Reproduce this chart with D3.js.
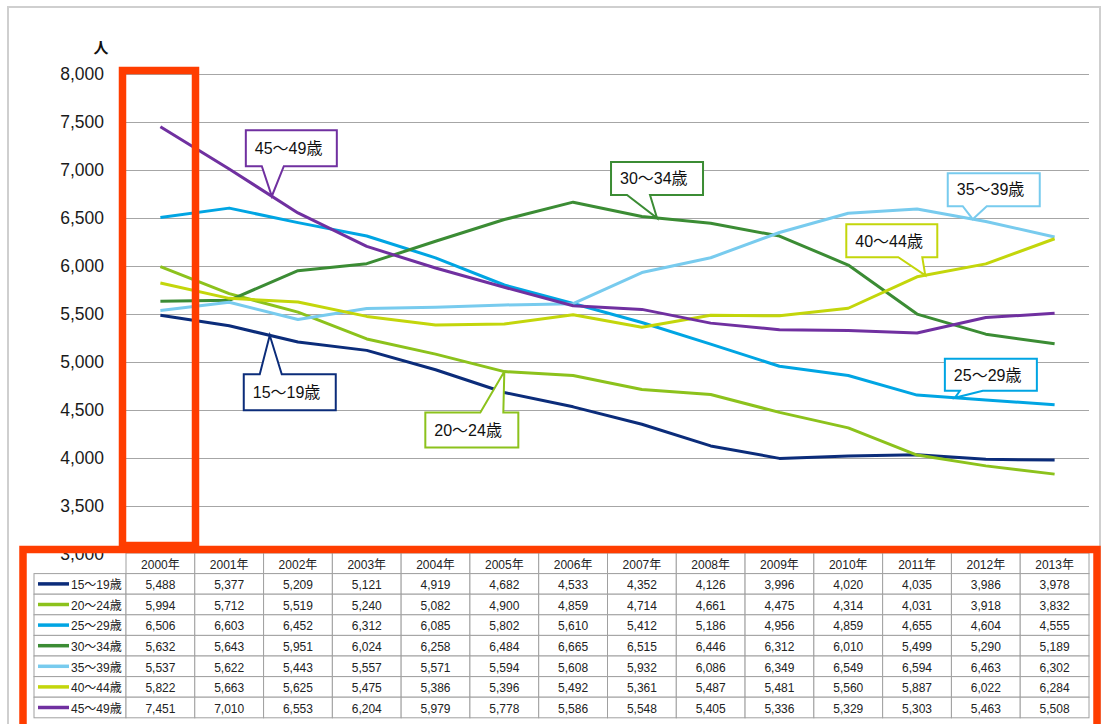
<!DOCTYPE html>
<html><head><meta charset="utf-8">
<script src="https://cdn.jsdelivr.net/npm/d3@7"></script>
<style>
html,body{margin:0;padding:0;background:#fff;}
svg{display:block;}
text{font-family:"Liberation Sans","Noto Sans CJK JP",Arial,sans-serif;}
</style></head>
<body>
<script>
const years = ["2000年","2001年","2002年","2003年","2004年","2005年","2006年","2007年","2008年","2009年","2010年","2011年","2012年","2013年"];
const seriesNames = ["15～19歳","20～24歳","25～29歳","30～34歳","35～39歳","40～44歳","45～49歳"];
const s15_19 = [5488,5377,5209,5121,4919,4682,4533,4352,4126,3996,4020,4035,3986,3978];
const s20_24 = [5994,5712,5519,5240,5082,4900,4859,4714,4661,4475,4314,4031,3918,3832];
const s25_29 = [6506,6603,6452,6312,6085,5802,5610,5412,5186,4956,4859,4655,4604,4555];
const s30_34 = [5632,5643,5951,6024,6258,6484,6665,6515,6446,6312,6010,5499,5290,5189];
const s35_39 = [5537,5622,5443,5557,5571,5594,5608,5932,6086,6349,6549,6594,6463,6302];
const s40_44 = [5822,5663,5625,5475,5386,5396,5492,5361,5487,5481,5560,5887,6022,6284];
const s45_49 = [7451,7010,6553,6204,5979,5778,5586,5548,5405,5336,5329,5303,5463,5508];
const seriesValues = [s15_19,s20_24,s25_29,s30_34,s35_39,s40_44,s45_49];
const colors = ["#0b2c7a","#8cc21c","#00a5e3","#3b8c34","#78cbee","#c3d60b","#7030a0"];
const yTicks = [3000,3500,4000,4500,5000,5500,6000,6500,7000,7500,8000];

(function(){
const W = 1107, H = 724;
const svg = d3.select("body").append("svg").attr("width",W).attr("height",H);

// outer frame
svg.append("rect").attr("x",8).attr("y",7).attr("width",1092).attr("height",800)
  .attr("fill","#fff").attr("stroke","#cfcfcf").attr("stroke-width",2);

const x = d3.scaleBand().domain(years).range([126,1089]).paddingInner(0).paddingOuter(0);
const bw = x.bandwidth();
const cx = d => x(d) + bw/2;
const y = d3.scaleLinear().domain([3000,8000]).range([554,74]);

// gridlines
svg.append("g").selectAll("line").data(yTicks).join("line")
  .attr("x1",126).attr("x2",1089)
  .attr("y1",d=>Math.round(y(d))+0.5).attr("y2",d=>Math.round(y(d))+0.5)
  .attr("stroke","#a6a6a6").attr("stroke-width",1.2);

// y labels
svg.append("g").selectAll("text").data(yTicks).join("text")
  .attr("x",104).attr("y",d=>y(d)).attr("dy","0.35em")
  .attr("text-anchor","end").attr("font-size",17.5).attr("fill","#1a1a1a")
  .text(d=>d3.format(",")(d));

svg.append("text").attr("x",101).attr("y",48).attr("dy","0.35em")
  .attr("text-anchor","middle").attr("font-size",15).attr("font-weight","bold")
  .attr("fill","#111").text("人");

// lines
const line = d3.line().x((d,i)=>cx(years[i])).y(d=>y(d));
svg.append("g").selectAll("path").data(seriesValues).join("path")
  .attr("d",d=>line(d)).attr("fill","none")
  .attr("stroke",(d,i)=>colors[i]).attr("stroke-width",3)
  .attr("stroke-linejoin","round");

// callouts
const callouts = [
  {s:6, i:1, t:0.62, dx:-26, dy:-66, w:91, h:36, b1:16, b2:38, side:"bottom"},
  {s:3, i:7, t:0.22, dx:-46, dy:-56, w:92, h:33, b1:16, b2:39, side:"bottom"},
  {s:4, i:11, t:0.81, dx:-25, dy:-46, w:92, h:33, b1:15, b2:39, side:"bottom"},
  {s:5, i:11, t:0.12, dx:-79, dy:-51, w:91, h:33, b1:52, b2:76, side:"bottom"},
  {s:2, i:11, t:0.55, dx:-10, dy:-39, w:92, h:32, b1:15, b2:38, side:"bottom"},
  {s:0, i:1, t:0.59, dx:-26, dy:39, w:92, h:36, b1:16, b2:38, side:"top"},
  {s:1, i:5, t:0.0, dx:-79, dy:41, w:93, h:35, b1:55, b2:78, side:"top"}
];
const cg = svg.append("g");
callouts.forEach(c=>{
  const v = seriesValues[c.s];
  const tx = cx(years[c.i]) + c.t*bw;
  const ty = y(v[c.i] + c.t*(v[c.i+1]-v[c.i]));
  const bx = tx + c.dx, by = ty + c.dy;
  let p;
  if(c.side==="bottom"){
    p = `M${bx},${by}H${bx+c.w}V${by+c.h}H${bx+c.b2}L${tx},${ty}L${bx+c.b1},${by+c.h}H${bx}Z`;
  } else {
    p = `M${bx},${by}H${bx+c.b1}L${tx},${ty}L${bx+c.b2},${by}H${bx+c.w}V${by+c.h}H${bx}Z`;
  }
  cg.append("path").attr("d",p).attr("fill","#fff").attr("stroke",colors[c.s])
    .attr("stroke-width",2).attr("stroke-linejoin","miter");
  cg.append("text").attr("x",bx+9).attr("y",by+c.h/2).attr("dy","0.36em")
    .attr("font-size",16).attr("fill","#111").text(seriesNames[c.s]);
});

// data table
const tableTop = 553, rowH = 20.6, leftX = 34;
const tg = svg.append("g");
years.forEach(yr=>{
  tg.append("rect").attr("x",x(yr)).attr("y",tableTop).attr("width",bw).attr("height",rowH)
    .attr("fill","#fff").attr("stroke","#a0a0a0").attr("stroke-width",1);
  tg.append("text").attr("x",cx(yr)).attr("y",tableTop+rowH/2+1).attr("dy","0.35em")
    .attr("text-anchor","middle").attr("font-size",12).attr("fill","#222").text(yr);
});
seriesValues.forEach((vals,r)=>{
  const ry = tableTop + rowH*(r+1);
  tg.append("rect").attr("x",leftX).attr("y",ry).attr("width",126-leftX).attr("height",rowH)
    .attr("fill","#fff").attr("stroke","#a0a0a0").attr("stroke-width",1);
  tg.append("line").attr("x1",38).attr("x2",69).attr("y1",ry+rowH/2).attr("y2",ry+rowH/2)
    .attr("stroke",colors[r]).attr("stroke-width",3.5);
  tg.append("text").attr("x",71).attr("y",ry+rowH/2+1).attr("dy","0.35em")
    .attr("font-size",12).attr("fill","#222").text(seriesNames[r]);
  vals.forEach((v,i)=>{
    tg.append("rect").attr("x",x(years[i])).attr("y",ry).attr("width",bw).attr("height",rowH)
      .attr("fill","#fff").attr("stroke","#a0a0a0").attr("stroke-width",1);
    tg.append("text").attr("x",cx(years[i])).attr("y",ry+rowH/2+1).attr("dy","0.35em")
      .attr("text-anchor","middle").attr("font-size",12).attr("fill","#222")
      .text(d3.format(",")(v));
  });
});

// highlight boxes
svg.append("rect").attr("x",122.5).attr("y",70.5).attr("width",73).attr("height",475)
  .attr("fill","none").attr("stroke","#ff3d00").attr("stroke-width",7.5);
svg.append("rect").attr("x",23).attr("y",549.5).attr("width",1074).attr("height",300)
  .attr("fill","none").attr("stroke","#ff3d00").attr("stroke-width",7.5);
})();
</script>
</body></html>
